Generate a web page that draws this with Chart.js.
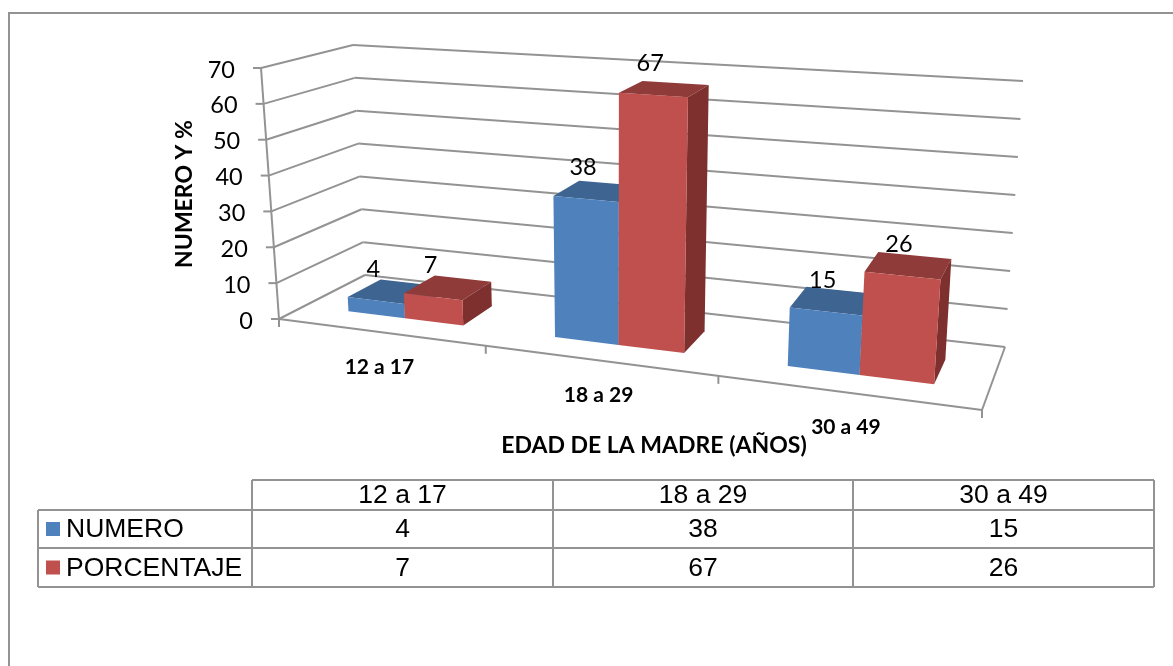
<!DOCTYPE html>
<html>
<head>
<meta charset="utf-8">
<style>
  html, body { margin: 0; padding: 0; background: #fff; }
  canvas { display: block; }
</style>
<script src="https://cdn.jsdelivr.net/npm/chart.js@4/dist/chart.umd.min.js"></script>
</head>
<body>
<canvas id="myChart" width="1173" height="666"></canvas>
<script>
var categories = ['12 a 17', '18 a 29', '30 a 49'];
var numero = [4, 38, 15];
var porcentaje = [7, 67, 26];
var yTicks = [0, 10, 20, 30, 40, 50, 60, 70];
var yTitle = 'NUMERO Y %';
var xTitle = 'EDAD DE LA MADRE (AÑOS)';

var LINE = '#939393';
var CHART_FONT = 'Lato, Carlito, sans-serif';
var TABLE_FONT = '"Liberation Sans", Arial, sans-serif';

// corners of the 3D box on screen: [left/right][front/back][floor/top]
var BOX = {
    lff: [279, 319], lft: [261, 68],
    lbf: [365, 275], lbt: [353, 45],
    rff: [982, 410], rft: [1003, 116],
    rbf: [1005, 347], rbt: [1023, 81]
};
var PERSPECTIVE = 1.2; // left side is further away, so categories get wider to the right
var BAR_FRONT = 0.3, BAR_BACK = 0.7; // bar depth inside the box
var BAR_SHIFT = 0.004; // bars sit a little right of the category centre

function mix(a, b, f) {
    return [a[0] + (b[0] - a[0]) * f, a[1] + (b[1] - a[1]) * f];
}

// t: along the x axis, v: up the y axis, w: into the depth, all 0..1
function project(t, v, w) {
    var u = t / (t + PERSPECTIVE * (1 - t));
    var left = mix(mix(BOX.lff, BOX.lft, v), mix(BOX.lbf, BOX.lbt, v), w);
    var right = mix(mix(BOX.rff, BOX.rft, v), mix(BOX.rbf, BOX.rbt, v), w);
    return mix(left, right, u);
}

function line(ctx, a, b, color, width) {
    ctx.strokeStyle = color || LINE;
    ctx.lineWidth = width || 2;
    ctx.beginPath();
    ctx.moveTo(a[0], a[1]);
    ctx.lineTo(b[0], b[1]);
    ctx.stroke();
}

function face(ctx, pts, color) {
    ctx.fillStyle = color;
    ctx.beginPath();
    pts.forEach(function (p, i) {
        if (i === 0) ctx.moveTo(p[0], p[1]); else ctx.lineTo(p[0], p[1]);
    });
    ctx.closePath();
    ctx.fill();
}

function text(ctx, str, x, y, font, align) {
    ctx.font = font;
    ctx.fillStyle = '#000';
    ctx.textAlign = align || 'center';
    ctx.textBaseline = 'middle';
    ctx.fillText(str, x, y);
}

var scene3d = {
    id: 'scene3d',
    beforeDatasetsDraw: function (chart) {
        var ctx = chart.ctx;
        var area = chart.chartArea;
        var xScale = chart.scales.x;
        var yScale = chart.scales.y;
        var toT = function (px) { return (px - area.left) / area.width; };
        var toV = function (py) { return (area.bottom - py) / area.height; };

        ctx.save();

        // walls with the y gridlines
        yTicks.forEach(function (tick) {
            var v = toV(yScale.getPixelForValue(tick));
            var front = project(0, v, 0);
            line(ctx, [front[0] - 8, front[1]], front);
            line(ctx, front, project(0, v, 1));
            line(ctx, project(0, v, 1), project(1, v, 1));
            text(ctx, String(tick), front[0] - 26, front[1] + 2, '23.5px ' + CHART_FONT, 'right');
        });
        line(ctx, project(0, 0, 0), project(0, 1, 0));

        // floor
        line(ctx, project(0, 0, 0), project(1, 0, 0));
        line(ctx, project(1, 0, 0), project(1, 0, 1));
        for (var i = 0; i <= categories.length; i++) {
            var p = project(i / categories.length, 0, 0);
            line(ctx, p, [p[0], p[1] + 8]);
        }
        categories.forEach(function (label, i) {
            var c = project(toT(xScale.getPixelForValue(i)), 0, 0);
            text(ctx, label, c[0], c[1] + 35, 'bold 21px ' + CHART_FONT);
        });

        // bars, one category at a time so the nearer series covers the other
        var labels = [];
        categories.forEach(function (label, i) {
            chart.data.datasets.forEach(function (ds, d) {
                var el = chart.getDatasetMeta(d).data[i];
                var t0 = toT(el.x - el.width / 2) + BAR_SHIFT;
                var t1 = toT(el.x + el.width / 2) + BAR_SHIFT;
                var v = toV(el.y);
                face(ctx, [project(t0, v, BAR_FRONT), project(t1, v, BAR_FRONT),
                           project(t1, v, BAR_BACK), project(t0, v, BAR_BACK)], ds.topColor);
                face(ctx, [project(t1, 0, BAR_FRONT), project(t1, v, BAR_FRONT),
                           project(t1, v, BAR_BACK), project(t1, 0, BAR_BACK)], ds.sideColor);
                face(ctx, [project(t0, 0, BAR_FRONT), project(t1, 0, BAR_FRONT),
                           project(t1, v, BAR_FRONT), project(t0, v, BAR_FRONT)], ds.backgroundColor);
                labels.push({ value: ds.data[i], at: project(toT(el.x), v, BAR_FRONT) });
            });
        });
        labels.forEach(function (l) {
            text(ctx, String(l.value), l.at[0], l.at[1] - 31, '23.5px ' + CHART_FONT);
        });

        // axis titles
        text(ctx, xTitle, 654, 446, 'bold 23px ' + CHART_FONT);
        ctx.translate(185, 194);
        ctx.rotate(-Math.PI / 2);
        text(ctx, yTitle, 0, 0, 'bold 23px ' + CHART_FONT);

        ctx.restore();
        return false; // flat bars are not wanted
    },
    afterDraw: function (chart) {
        var ctx = chart.ctx;
        var cols = [252, 553, 853, 1154];
        var rows = [480, 510, 548, 587];
        var left = 38;

        ctx.save();
        // outer frame
        line(ctx, [9, 666], [9, 13], LINE, 2);
        line(ctx, [8, 13], [1173, 13], LINE, 2);

        // data table below the plot
        line(ctx, [cols[0], rows[0]], [cols[3], rows[0]], LINE, 2);
        rows.slice(1).forEach(function (y) { line(ctx, [left, y], [cols[3], y], LINE, 2); });
        line(ctx, [left, rows[1]], [left, rows[3]], LINE, 2);
        cols.forEach(function (x) { line(ctx, [x, rows[0]], [x, rows[3]], LINE, 2); });

        var font = '26.5px ' + TABLE_FONT;
        categories.forEach(function (label, i) {
            var cx = (cols[i] + cols[i + 1]) / 2;
            text(ctx, label, cx, (rows[0] + rows[1]) / 2 + 1, font);
            chart.data.datasets.forEach(function (ds, d) {
                text(ctx, String(ds.data[i]), cx, (rows[d + 1] + rows[d + 2]) / 2 + 1, font);
            });
        });
        chart.data.datasets.forEach(function (ds, d) {
            var cy = (rows[d + 1] + rows[d + 2]) / 2;
            ctx.fillStyle = ds.backgroundColor;
            ctx.fillRect(46, cy - 7, 14, 14);
            text(ctx, ds.label, 66, cy + 1, font, 'left');
        });
        ctx.restore();
    }
};

var ctx = document.getElementById('myChart').getContext('2d');
var myChart = new Chart(ctx, {
    type: 'bar',
    data: {
        labels: categories,
        datasets: [{
            label: 'NUMERO',
            data: numero,
            backgroundColor: '#4f81bd',
            topColor: '#3e6491',
            sideColor: '#3a5d88'
        }, {
            label: 'PORCENTAJE',
            data: porcentaje,
            backgroundColor: '#c0504d',
            topColor: '#8f3b39',
            sideColor: '#7d302e'
        }]
    },
    options: {
        responsive: false,
        animation: false,
        layout: { padding: 0 },
        categoryPercentage: 0.57,
        barPercentage: 1,
        scales: {
            x: { display: false },
            y: {
                display: false,
                min: yTicks[0],
                max: yTicks[yTicks.length - 1]
            }
        },
        plugins: {
            legend: { display: false },
            tooltip: { enabled: false }
        }
    },
    plugins: [scene3d]
});
</script>
</body>
</html>
